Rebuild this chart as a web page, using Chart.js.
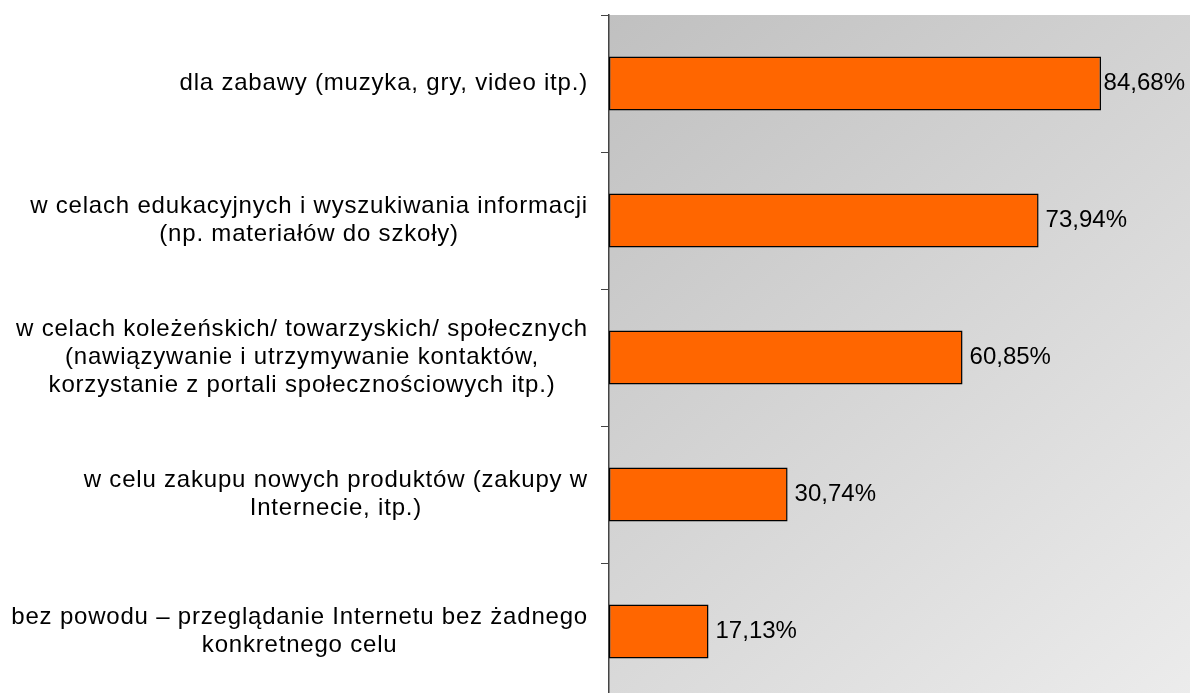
<!DOCTYPE html>
<html>
<head>
<meta charset="utf-8">
<script src="https://cdn.jsdelivr.net/npm/chart.js@4/dist/chart.umd.min.js"></script>
<style>
  html, body { margin: 0; padding: 0; background: #fff; overflow: hidden; }
  #wrap { position: relative; width: 1190px; height: 700px; }
</style>
</head>
<body>
<div id="wrap"><canvas id="chart"></canvas></div>
<script>
const categories = [
  ["dla zabawy (muzyka, gry, video itp.)"],
  ["w celach edukacyjnych i wyszukiwania informacji", "(np. materiałów do szkoły)"],
  ["w celach koleżeńskich/ towarzyskich/ społecznych", "(nawiązywanie i utrzymywanie kontaktów,", "korzystanie z portali społecznościowych itp.)"],
  ["w celu zakupu nowych produktów (zakupy w", "Internecie, itp.)"],
  ["bez powodu – przeglądanie Internetu bez żadnego", "konkretnego celu"],
];
const values = [84.68, 73.94, 60.85, 30.74, 17.13];
const valueLabels = ["84,68%", "73,94%", "60,85%", "30,74%", "17,13%"];

const FONT = '24px "Liberation Sans", Arial, sans-serif';

// gradient background of the plot area
const plotBackground = {
  id: "plotBackground",
  beforeDraw(chart) {
    const { ctx, chartArea: a } = chart;
    const g = ctx.createLinearGradient(a.left, a.top, a.right, a.bottom);
    g.addColorStop(0, "#c0c0c0");
    g.addColorStop(1, "#ececec");
    ctx.save();
    ctx.fillStyle = g;
    ctx.fillRect(a.left, a.top, a.right - a.left, a.bottom - a.top);
    ctx.restore();
  },
};

// category labels: block right-aligned, lines centred within the block
const categoryLabels = {
  id: "categoryLabels",
  afterDraw(chart) {
    const { ctx } = chart;
    const y = chart.scales.y;
    const rightEdge = y.right - 21;
    const lineH = 28;
    ctx.save();
    ctx.font = FONT;
    ctx.letterSpacing = "0.8px";
    ctx.fillStyle = "#000";
    ctx.textAlign = "center";
    ctx.textBaseline = "middle";
    categories.forEach((lines, i) => {
      const w = Math.max(...lines.map(l => ctx.measureText(l).width));
      const cx = rightEdge - w / 2;
      const cy = y.getPixelForValue(i);
      lines.forEach((l, j) => {
        ctx.fillText(l, cx, cy + (j - (lines.length - 1) / 2) * lineH);
      });
    });
    ctx.restore();
  },
};

// value labels to the right of the bars
const valueText = {
  id: "valueText",
  afterDatasetsDraw(chart) {
    const { ctx } = chart;
    const meta = chart.getDatasetMeta(0);
    ctx.save();
    ctx.font = FONT;
    ctx.fillStyle = "#000";
    ctx.textAlign = "left";
    ctx.textBaseline = "middle";
    meta.data.forEach((bar, i) => {
      const w = ctx.measureText(valueLabels[i]).width;
      const x = Math.min(bar.x + 7, chart.width - w - 5);
      ctx.fillText(valueLabels[i], x, bar.y);
    });
    ctx.restore();
  },
};

new Chart(document.getElementById("chart"), {
  type: "bar",
  data: {
    labels: categories,
    datasets: [{
      data: values,
      backgroundColor: "#ff6600",
      borderColor: "#000000",
      borderWidth: 1.5,
      borderSkipped: false,
      categoryPercentage: 1,
      barPercentage: 0.395,
    }],
  },
  options: {
    indexAxis: "y",
    responsive: true,
    maintainAspectRatio: false,
    animation: false,
    layout: { padding: { top: 15, right: 0, bottom: 0, left: 0 } },
    plugins: { legend: { display: false }, tooltip: { enabled: false } },
    scales: {
      x: {
        display: false,
        min: 0,
        max: 100,
      },
      y: {
        afterFit(scale) { scale.width = 609; },
        ticks: { display: false },
        grid: {
          offset: true,
          drawOnChartArea: false,
          drawTicks: true,
          tickLength: 8,
          color: "#444",
          lineWidth: 1,
        },
        border: { display: true, color: "#444", width: 1.5 },
      },
    },
  },
  plugins: [plotBackground, categoryLabels, valueText],
});
</script>
</body>
</html>
